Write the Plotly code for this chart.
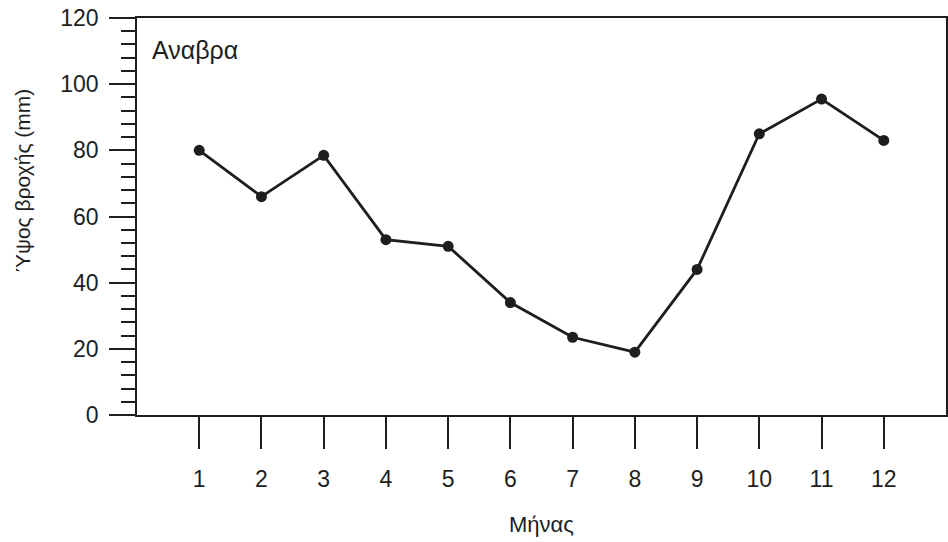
import plotly.graph_objects as go

months = [1, 2, 3, 4, 5, 6, 7, 8, 9, 10, 11, 12]
rainfall = [80, 66, 78.5, 53, 51, 34, 23.5, 19, 44, 85, 95.5, 83]
month_labels = ["1", "2", "3", "4", "5", "6", "7", "8", "9", "10", "11", "12"]
y_ticks = [0, 20, 40, 60, 80, 100, 120]

FONT = "Liberation Sans, Arial, sans-serif"
INK = "#1e1e1e"

fig = go.Figure()
fig.add_trace(go.Scatter(
    x=months, y=rainfall, mode="lines+markers",
    line=dict(color=INK, width=2.8),
    marker=dict(color=INK, size=11),
    showlegend=False, hoverinfo="skip",
))

fig.update_layout(
    width=948, height=542,
    margin=dict(l=137, r=2, t=18, b=127, autoexpand=False),
    paper_bgcolor="white", plot_bgcolor="white",
    font=dict(family=FONT, size=22, color=INK),
    xaxis=dict(
        range=[0, 13], tickvals=months, ticktext=month_labels,
        ticks="outside", ticklen=32, tickwidth=1.5, tickcolor=INK,
        showline=True, linecolor=INK, linewidth=1.8, mirror=True,
        showgrid=False, zeroline=False, ticklabelstandoff=10,
        tickfont=dict(size=23), automargin=False,
    ),
    yaxis=dict(
        range=[0, 120], tickvals=y_ticks,
        ticks="outside", ticklen=26, tickwidth=1.8, tickcolor=INK,
        minor=dict(dtick=4, ticks="outside", ticklen=14, tickwidth=1.8,
                   tickcolor=INK, showgrid=False),
        showline=True, linecolor=INK, linewidth=1.8, mirror=True,
        showgrid=False, zeroline=False, ticklabelstandoff=6,
        tickfont=dict(size=23), automargin=False,
    ),
    annotations=[
        dict(text="Αναβρα", xref="paper", yref="paper", x=0.016, y=0.92,
             xanchor="left", yanchor="middle", showarrow=False,
             font=dict(size=25, color=INK)),
        dict(text="Ύψος βροχής (mm)", xref="paper", yref="paper",
             x=(22 - 137) / 809, y=(415 - 181) / 397, textangle=-90,
             xanchor="center", yanchor="middle", showarrow=False,
             font=dict(size=21, color=INK)),
        dict(text="Μήνας", xref="paper", yref="paper",
             x=0.5, y=-(524 - 415) / 397, xanchor="center", yanchor="middle",
             showarrow=False, font=dict(size=22, color=INK)),
    ],
)

fig.write_html("out.html", config={"displayModeBar": False},
               post_script="document.body.style.margin='0';")
